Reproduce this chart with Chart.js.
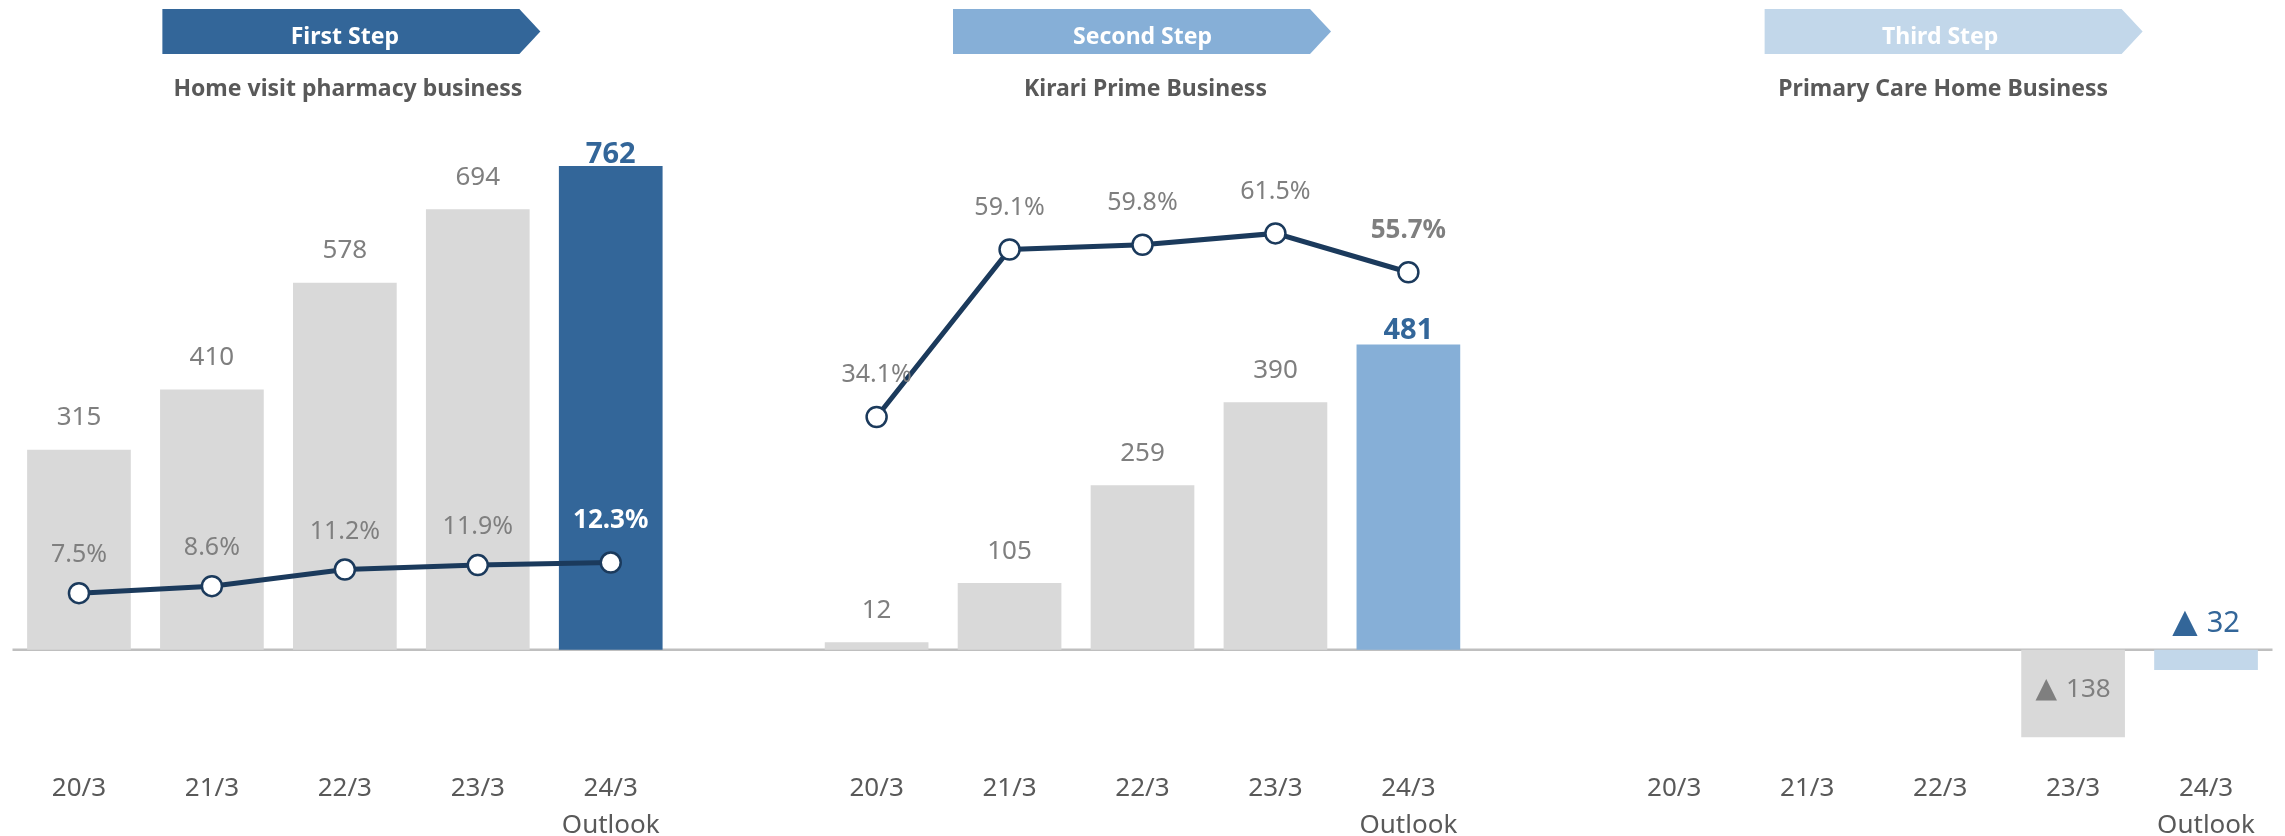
<!DOCTYPE html>
<html>
<head>
<meta charset="utf-8">
<script src="https://cdn.jsdelivr.net/npm/chart.js@4.4.0/dist/chart.umd.min.js"></script>
<style>
  html, body { margin: 0; padding: 0; background: #fff; }
  #wrap { width: 2285px; height: 836px; }
</style>
</head>
<body>
<div id="wrap"><canvas id="steps-chart" width="2285" height="836"></canvas></div>
<script>
const years = ['20/3', '21/3', '22/3', '23/3', ['24/3', 'Outlook']];
const homeVisitSales = [315, 410, 578, 694, 762];
const homeVisitMargin = [7.5, 8.6, 11.2, 11.9, 12.3];
const kirariSales = [12, 105, 259, 390, 481];
const kirariMargin = [34.1, 59.1, 59.8, 61.5, 55.7];
const primaryCareProfit = [null, null, null, -138, -32];
const stepTitles = ['First Step', 'Second Step', 'Third Step'];
const businessNames = ['Home visit pharmacy business', 'Kirari Prime Business', 'Primary Care Home Business'];

const FONT = "'Noto Sans', sans-serif";
const GRAY_BAR = '#D9D9D9';
const LABEL_GRAY = '#7F7F7F';
const LINE_COLOR = '#1B3A5C';
const stepColors = ['#336699', '#86AFD7', '#C2D7EA'];
const bannerNudge = [1.5, -5.5, 8.5];
const outlookLabelGap = [11, 14, 14];

// three panels on one category axis, one empty slot between them
const blank = [null, null, null, null, null];
const labels = [...years, '', ...years, '', ...years];
const barData = [...homeVisitSales, null, ...kirariSales, null, ...primaryCareProfit];
const marginFirst = [...homeVisitMargin, null, ...blank, null, ...blank];
const marginSecond = [...blank, null, ...kirariMargin, null, ...blank];
const barColors = barData.map((v, i) => (i % 6 === 4 ? stepColors[Math.floor(i / 6)] : GRAY_BAR));

function text(ctx, str, x, y, size, color, bold) {
  ctx.font = (bold ? 'bold ' : '') + size + 'px ' + FONT;
  ctx.fillStyle = color;
  ctx.textAlign = 'center';
  ctx.textBaseline = 'middle';
  ctx.fillText(str, x, y);
}

// negative values: a triangle mark, then the absolute value, sharing one baseline
function negText(ctx, v, x, baseY, color, markSize, numSize) {
  const mark = '\u25B2', num = String(Math.abs(v));
  const markFont = markSize + "px 'DejaVu Sans', sans-serif";
  const numFont = numSize + 'px ' + FONT;
  ctx.font = markFont;
  const wm = ctx.measureText(mark).width;
  ctx.font = numFont;
  const wn = ctx.measureText(num).width;
  const gapW = 9;
  const start = x - (wm + gapW + wn) / 2;
  ctx.fillStyle = color;
  ctx.textBaseline = 'alphabetic';
  ctx.textAlign = 'left';
  ctx.font = markFont;
  ctx.fillText(mark, start, baseY);
  ctx.font = numFont;
  ctx.fillText(num, start + wm + gapW, baseY);
}

const stepDecor = {
  id: 'stepDecor',
  beforeDatasetsDraw(chart) {
    const { ctx, chartArea, scales: { x, y } } = chart;
    const y0 = y.getPixelForValue(0);
    ctx.save();
    ctx.strokeStyle = '#BFBFBF';
    ctx.lineWidth = 2.5;
    ctx.beginPath();
    ctx.moveTo(chartArea.left, y0);
    ctx.lineTo(chartArea.right, y0);
    ctx.stroke();

    stepTitles.forEach((title, p) => {
      const cx = x.getPixelForValue(p * 6 + 2);
      const bx = cx + bannerNudge[p];
      const left = bx - 184, tip = bx + 194, body = tip - 21;
      const top = 9, bottom = 54, mid = (top + bottom) / 2;
      ctx.fillStyle = stepColors[p];
      ctx.beginPath();
      ctx.moveTo(left, top);
      ctx.lineTo(body, top);
      ctx.lineTo(tip, mid);
      ctx.lineTo(body, bottom);
      ctx.lineTo(left, bottom);
      ctx.closePath();
      ctx.fill();
      text(ctx, title, cx, mid + 6, 23, '#FFFFFF', true);
      text(ctx, businessNames[p], cx + 3, 89, 23, '#595959', true);
    });

    // labels above positive bars sit behind the bars, as in the original
    const meta = chart.getDatasetMeta(2);
    barData.forEach((v, i) => {
      if (v == null || v < 0) return;
      const bar = meta.data[i];
      if (i % 6 === 4) {
        text(ctx, String(v), bar.x, bar.y - outlookLabelGap[Math.floor(i / 6)], 29, '#336699', true);
      } else {
        text(ctx, String(v), bar.x, bar.y - 32, 26, LABEL_GRAY, false);
      }
    });
    ctx.restore();
  },
  afterDatasetsDraw(chart) {
    const { ctx } = chart;
    ctx.save();
    const meta = chart.getDatasetMeta(2);
    barData.forEach((v, i) => {
      if (v == null || v >= 0) return;
      const bar = meta.data[i];
      if (i % 6 === 4) {
        negText(ctx, v, bar.x, bar.base - 18, '#336699', 33, 29);
      } else {
        negText(ctx, v, bar.x, bar.base + 47, LABEL_GRAY, 28, 26);
      }
    });

    [marginFirst, marginSecond].forEach((series, d) => {
      const pts = chart.getDatasetMeta(d).data;
      series.forEach((v, i) => {
        if (v == null) return;
        const last = i % 6 === 4;
        const color = last && d === 0 ? '#FFFFFF' : LABEL_GRAY;
        const off = d === 0 ? (last ? 42 : 38) : 42;
        text(ctx, v.toFixed(1) + '%', pts[i].x, pts[i].y - off, last ? 26 : 25, color, last);
      });
    });
    ctx.restore();
  }
};

const lineStyle = {
  type: 'line',
  order: 0,
  borderColor: LINE_COLOR,
  borderWidth: 5,
  pointRadius: 10,
  pointBackgroundColor: '#FFFFFF',
  pointBorderColor: LINE_COLOR,
  pointBorderWidth: 2.5,
  spanGaps: false,
};

new Chart(document.getElementById('steps-chart').getContext('2d'), {
  data: {
    labels: labels,
    datasets: [
      { ...lineStyle, data: marginFirst, yAxisID: 'y1' },
      { ...lineStyle, data: marginSecond, yAxisID: 'y2' },
      {
        type: 'bar',
        order: 1,
        data: barData,
        yAxisID: 'y',
        backgroundColor: barColors,
        barPercentage: 1,
        categoryPercentage: 0.78,
      },
    ],
  },
  options: {
    responsive: false,
    animation: false,
    events: [],
    layout: { padding: { left: 12, right: 10, top: 15, bottom: 0 } },
    plugins: {
      legend: { display: false },
      tooltip: { enabled: false },
    },
    scales: {
      x: {
        grid: { display: false, drawTicks: false },
        border: { display: false },
        ticks: {
          color: '#595959',
          font: { family: FONT, size: 26, lineHeight: 1.42 },
          padding: 6,
          autoSkip: false,
          maxRotation: 0,
        },
        afterFit(scale) { scale.height = 72; },
      },
      y: { display: false, min: -180, max: 1000 },
      y1: { display: false, min: -19.3, max: 98.2 },
      y2: { display: false, min: -17.7, max: 94.1 },
    },
  },
  plugins: [stepDecor],
});
</script>
</body>
</html>
